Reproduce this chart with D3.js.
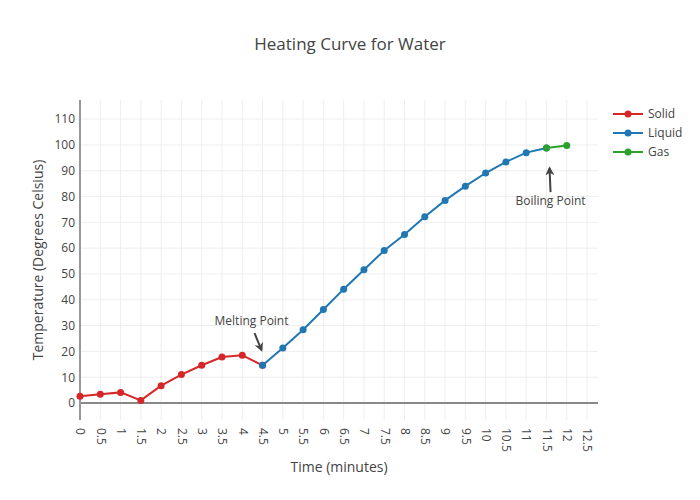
<!DOCTYPE html>
<html>
<head>
<meta charset="utf-8">
<script src="https://cdn.jsdelivr.net/npm/d3@7"></script>
<style>
  body { margin: 0; background: #fff; }
  text { font-family: "Open Sans", sans-serif; fill: #444; }
</style>
</head>
<body>
<svg id="chart" width="700" height="500"></svg>
<script>
// ---- data ----
const solidX = [0, 0.5, 1, 1.5, 2, 2.5, 3, 3.5, 4, 4.5];
const solidY = [2.6, 3.4, 4.1, 1.0, 6.7, 11.0, 14.6, 17.8, 18.5, 14.6];
const liquidX = [4.5, 5, 5.5, 6, 6.5, 7, 7.5, 8, 8.5, 9, 9.5, 10, 10.5, 11, 11.5];
const liquidY = [14.6, 21.3, 28.4, 36.2, 44.1, 51.6, 59.1, 65.3, 72.2, 78.5, 84.0, 89.1, 93.4, 97.0, 98.8];
const gasX = [11.5, 12];
const gasY = [98.8, 99.8];
const seriesNames = ["Solid", "Liquid", "Gas"];
const seriesColors = ["#d62728", "#1f77b4", "#2ca02c"];
const xTicks = [0, 0.5, 1, 1.5, 2, 2.5, 3, 3.5, 4, 4.5, 5, 5.5, 6, 6.5, 7, 7.5, 8, 8.5, 9, 9.5, 10, 10.5, 11, 11.5, 12, 12.5];
const yTicks = [0, 10, 20, 30, 40, 50, 60, 70, 80, 90, 100, 110];
const annTexts = ["Melting Point", "Boiling Point"];
const annX = [4.5, 11.6];
const annY = [20.5, 91];

const series = [
  { name: seriesNames[0], color: seriesColors[0], pts: solidX.map((x, i) => [x, solidY[i]]) },
  { name: seriesNames[1], color: seriesColors[1], pts: liquidX.map((x, i) => [x, liquidY[i]]) },
  { name: seriesNames[2], color: seriesColors[2], pts: gasX.map((x, i) => [x, gasY[i]]) }
];

// ---- layout ----
const L = 80, R = 598, T = 100, B = 420;
const svg = d3.select("#chart");
const x = d3.scaleLinear().domain([0, 12.77]).range([L, R]);
const y = d3.scaleLinear().domain([-6.6, 117.4]).range([B, T]);

// grid
const grid = svg.append("g");
grid.selectAll(".vg").data(xTicks).join("line")
  .attr("x1", d => x(d)).attr("x2", d => x(d)).attr("y1", T).attr("y2", B)
  .attr("stroke", "#eee").attr("stroke-width", 1);
grid.selectAll(".hg").data(yTicks.filter(d => d !== 0)).join("line")
  .attr("x1", L).attr("x2", R).attr("y1", d => y(d)).attr("y2", d => y(d))
  .attr("stroke", "#eee").attr("stroke-width", 1);

// zero line
svg.append("line").attr("x1", L).attr("x2", R).attr("y1", y(0)).attr("y2", y(0))
  .attr("stroke", "#888").attr("stroke-width", 2);

// y axis line
svg.append("line").attr("x1", L).attr("x2", L).attr("y1", T).attr("y2", B)
  .attr("stroke", "#999").attr("stroke-width", 2);

// y axis ticks labels via d3 axis
const yAxis = d3.axisLeft(y).tickValues(yTicks).tickSize(0).tickPadding(4);
const yg = svg.append("g").attr("transform", `translate(${L - 1},0)`).call(yAxis);
yg.select(".domain").remove();
yg.selectAll("text").style("font-size", "12px").style("font-family", "'Open Sans', sans-serif").attr("fill", "#444");

// x axis tick labels
const xAxis = d3.axisBottom(x).tickValues(xTicks).tickSize(0).tickFormat(d => String(d));
const xg = svg.append("g").attr("transform", `translate(0,${B})`).call(xAxis);
xg.select(".domain").remove();
xg.selectAll("text")
  .style("font-size", "12px").style("font-family", "'Open Sans', sans-serif").attr("fill", "#444")
  .attr("y", 0).attr("dy", "0.35em")
  .attr("transform", "translate(0,8) rotate(90)")
  .attr("text-anchor", "start");

// lines & markers
const line = d3.line().x(d => x(d[0])).y(d => y(d[1]));
series.forEach(s => {
  svg.append("path").datum(s.pts).attr("d", line)
    .attr("fill", "none").attr("stroke", s.color).attr("stroke-width", 2);
});
series.forEach(s => {
  svg.append("g").selectAll("circle").data(s.pts).join("circle")
    .attr("cx", d => x(d[0])).attr("cy", d => y(d[1])).attr("r", 3.5)
    .attr("fill", s.color);
});

// annotations
const defs = svg.append("defs");
defs.append("marker").attr("id", "arr").attr("viewBox", "0 0 10 10")
  .attr("refX", 8).attr("refY", 5).attr("markerWidth", 4.5).attr("markerHeight", 4.5)
  .attr("orient", "auto").attr("markerUnits", "strokeWidth")
  .append("path").attr("d", "M0,0 L10,5 L0,10 L3,5 Z").attr("fill", "#444");

const annOff = [[-11, -29], [0, 33]];
annTexts.forEach((t, i) => {
  const px = x(annX[i]), py = y(annY[i]);
  const tx = px + annOff[i][0], ty = py + annOff[i][1];
  let sx, sy;
  if (annOff[i][1] < 0) { sx = tx + 3; sy = ty + 12; } else { sx = tx; sy = ty - 9; }
  svg.append("line").attr("x1", sx).attr("y1", sy).attr("x2", px - 1).attr("y2", py)
    .attr("stroke", "#444").attr("stroke-width", 2).attr("marker-end", "url(#arr)");
  svg.append("text").attr("x", tx).attr("y", ty).attr("dy", "0.35em")
    .attr("text-anchor", "middle").style("font-size", "12px").text(t);
});

// title
svg.append("text").attr("x", 350).attr("y", 44).attr("dy", "0.35em").attr("text-anchor", "middle")
  .style("font-size", "17px").text("Heating Curve for Water");

// axis titles
svg.append("text").attr("x", 339).attr("y", 467).attr("dy", "0.35em").attr("text-anchor", "middle")
  .style("font-size", "14px").text("Time (minutes)");
svg.append("text").attr("transform", "translate(38,260) rotate(-90)").attr("dy", "0.35em")
  .attr("text-anchor", "middle").style("font-size", "14px").text("Temperature (Degrees Celsius)");

// legend
const lg = svg.append("g").attr("transform", "translate(613,114)");
series.forEach((s, i) => {
  const g = lg.append("g").attr("transform", `translate(0,${i * 19})`);
  g.append("line").attr("x1", 0).attr("x2", 30).attr("y1", 0).attr("y2", 0)
    .attr("stroke", s.color).attr("stroke-width", 2);
  g.append("circle").attr("cx", 15).attr("cy", 0).attr("r", 3.5).attr("fill", s.color);
  g.append("text").attr("x", 35).attr("y", 0).attr("dy", "0.35em").style("font-size", "12px").text(s.name);
});
</script>
</body>
</html>
